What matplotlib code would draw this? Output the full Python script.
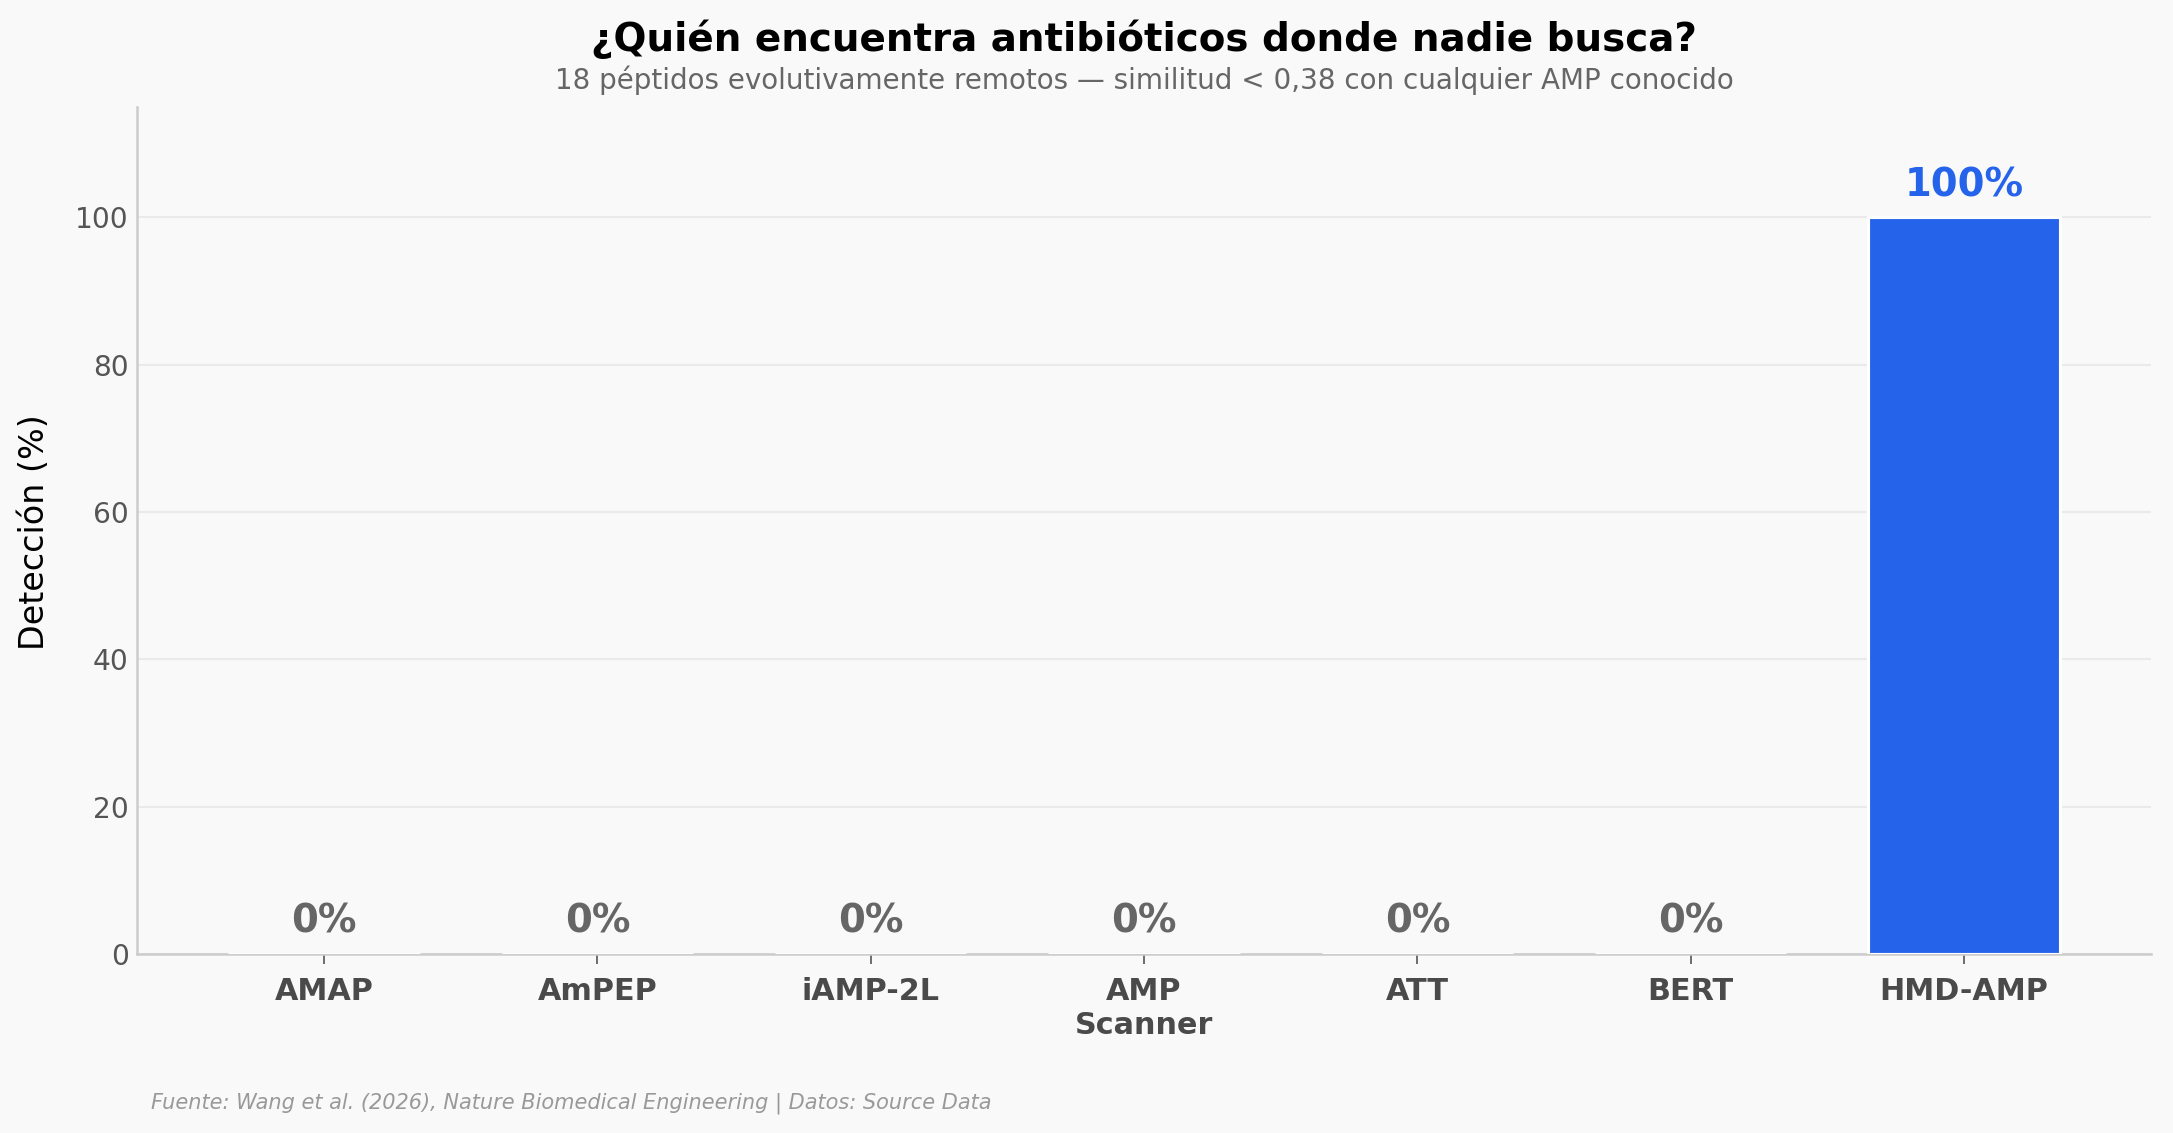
import matplotlib.pyplot as plt
import numpy as np

herramientas = ["AMAP", "AmPEP", "iAMP-2L", "AMP\nScanner", "ATT", "BERT", "HMD-AMP"]
deteccion = [0, 0, 0, 0, 0, 0, 100]
etiquetas = ["0%", "0%", "0%", "0%", "0%", "0%", "100%"]

fondo = "#f9f9f9"
azul = "#2563eb"
gris = "#cccccc"

fig = plt.figure(figsize=(2173 / 150, 1133 / 150), dpi=150, facecolor=fondo)
ax = fig.add_axes([0.063, 0.158, 0.927, 0.7476])
ax.set_facecolor(fondo)

x = np.arange(len(herramientas))
colores = [azul if v > 0 else gris for v in deteccion]
ax.bar(x, deteccion, width=0.7, color=colores, edgecolor="white", linewidth=1.5, zorder=3)

for xi, v, lab in zip(x, deteccion, etiquetas):
    col = azul if v > 0 else "#666666"
    ax.text(xi, v + 1.8, lab, ha="center", va="bottom", fontsize=18.5,
            fontweight="bold", color=col, zorder=4)

ax.set_ylim(0, 115)
ax.set_yticks([0, 20, 40, 60, 80, 100])
ax.set_xticks(x)
ax.set_xticklabels(herramientas, fontsize=14.5, fontweight="bold", color="#4a4a4a")
ax.tick_params(axis="y", length=0, labelsize=13.5, labelcolor="#555555", pad=4)
ax.tick_params(axis="x", length=5, color="#555555", pad=6)
ax.grid(axis="y", color="#eaeaea", linewidth=1, zorder=0)
ax.set_axisbelow(True)
for s in ["top", "right"]:
    ax.spines[s].set_visible(False)
for s in ["left", "bottom"]:
    ax.spines[s].set_color(gris)
    ax.spines[s].set_linewidth(1.2)

fig.text(0.016, 0.53, "Detección (%)", rotation=90, ha="center", va="center", fontsize=16)

fig.text(0.5265, 0.965, "¿Quién encuentra antibióticos donde nadie busca?",
         ha="center", va="center", fontsize=18.7, fontweight="bold")
fig.text(0.5265, 0.929, "18 péptidos evolutivamente remotos — similitud < 0,38 con cualquier AMP conocido",
         ha="center", va="center", fontsize=13.3, color="#666666")
fig.text(0.0695, 0.026, "Fuente: Wang et al. (2026), Nature Biomedical Engineering | Datos: Source Data",
         ha="left", va="center", fontsize=10, style="italic", color="#999999")

fig.savefig("out.png", dpi=150, facecolor=fondo)
